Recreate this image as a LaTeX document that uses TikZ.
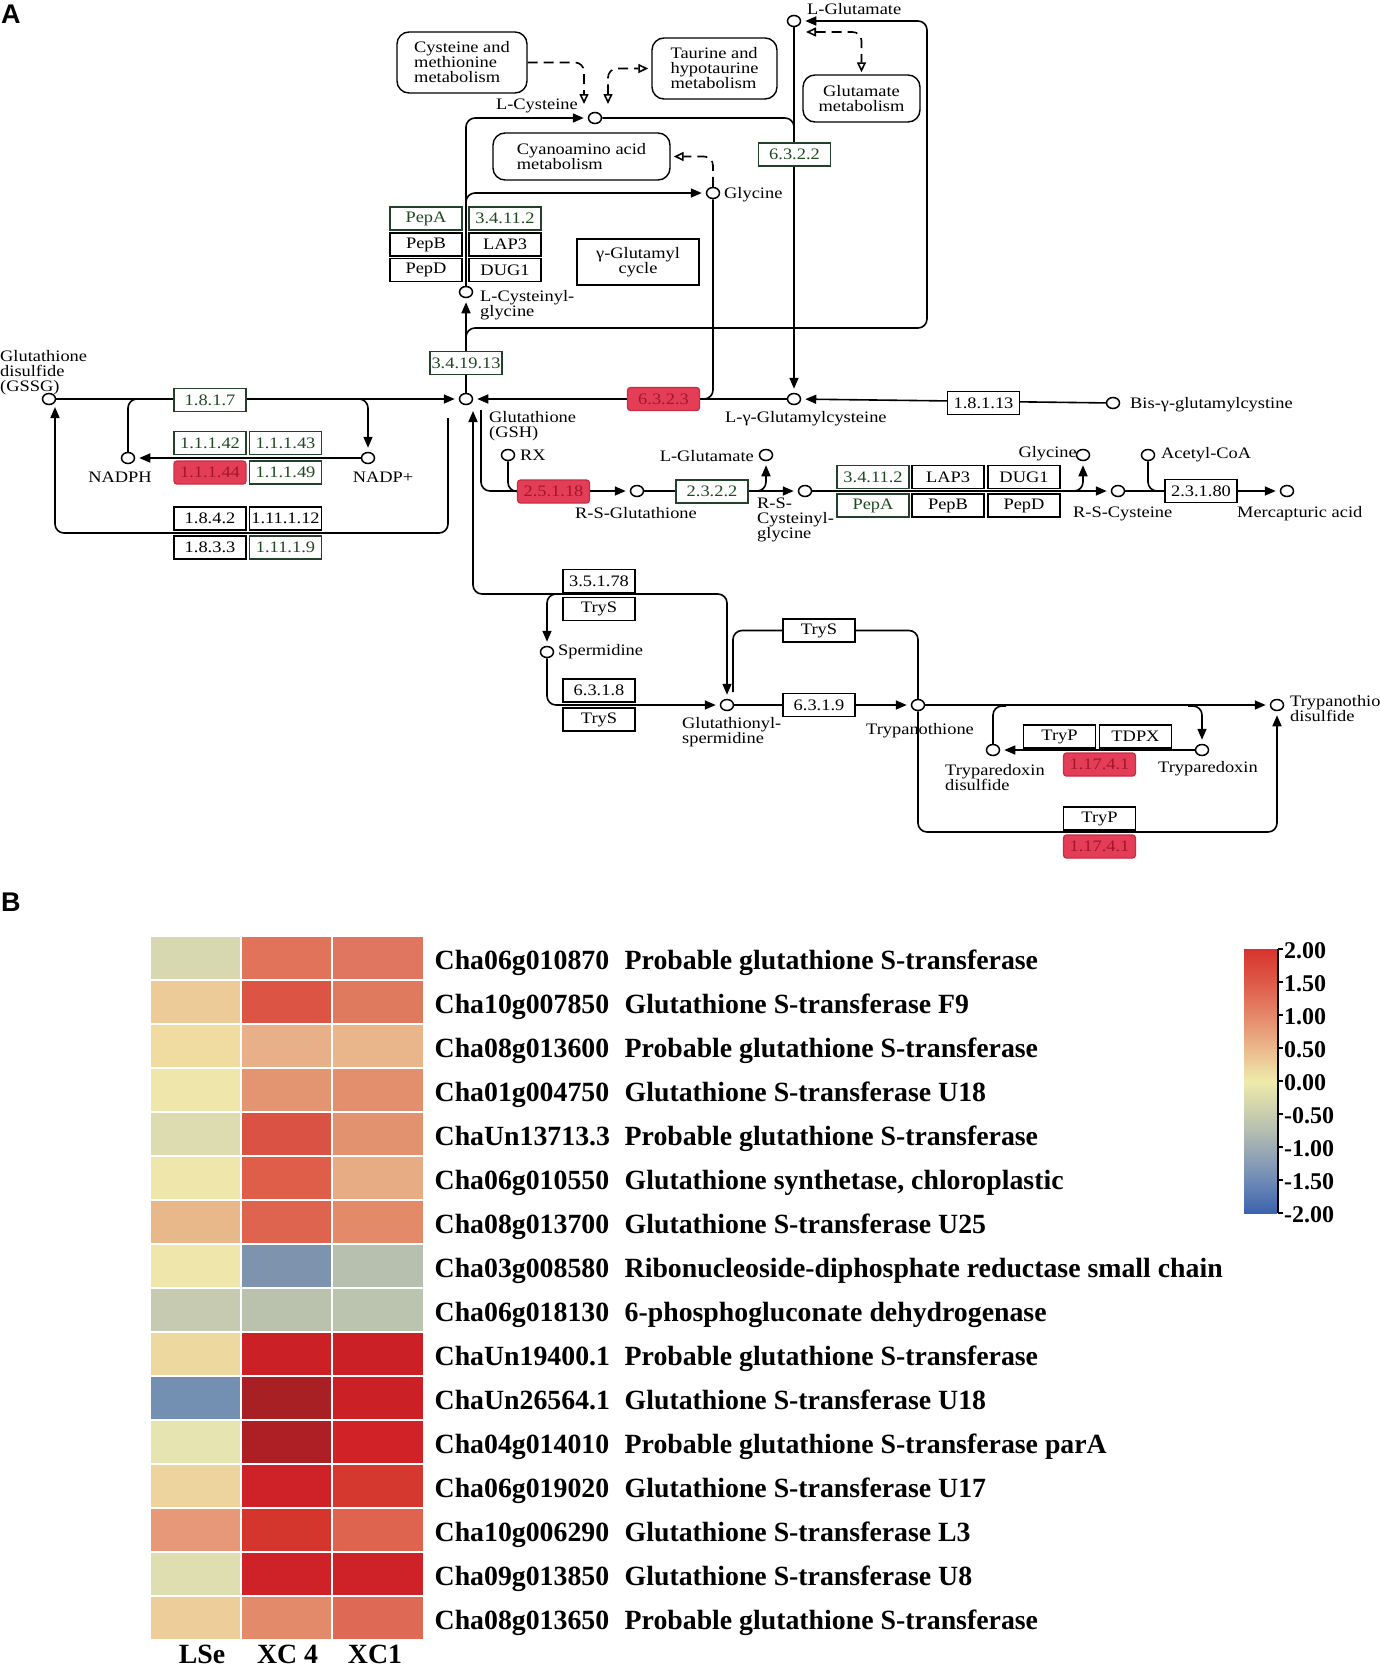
\documentclass[tikz,border=0pt]{standalone}
\usepackage{fontspec}
\setmainfont{Liberation Serif}
\newfontfamily\kegg[FakeStretch=1.15]{Liberation Serif}
\newfontfamily\hmfont{Liberation Serif}
\newfontfamily\panelfont{Liberation Sans}
\usetikzlibrary{arrows.meta,shapes.geometric}
\pgfdeclarelayer{bg}
\pgfsetlayers{bg,main}
\definecolor{kgreen}{HTML}{1E4A22}
\definecolor{kgreenb}{HTML}{23402A}
\definecolor{kred}{HTML}{E43D58}
\definecolor{kredb}{HTML}{C92C45}
\definecolor{kredt}{HTML}{A3162C}
\tikzset{otip/.tip={Triangle[open,length=10pt,width=9pt]},
         ftip/.tip={Triangle[length=11pt,width=9pt]}}
\begin{document}
\begin{tikzpicture}[x=1pt,y=-1pt,
  kfont/.style={font=\kegg\fontsize{16}{15}\selectfont},
  ln/.style={line width=1.6pt},
  rc/.style={rounded corners=9pt},
  arr/.style={ln,-{ftip},shorten >=4pt},
  dsh/.style={ln,dash pattern=on 10pt off 6pt},
  cpd/.style={ellipse,draw,fill=white,line width=1.5pt,minimum width=13pt,minimum height=11pt,inner sep=0pt},
  ec/.style={kfont,draw,fill=white,line width=1.3pt,minimum width=72pt,minimum height=23pt,inner sep=0pt},
  ecg/.style={ec,draw=kgreenb,text=kgreen},
  ecr/.style={ec,draw=kredb,fill=kred,text=kredt,rounded corners=3pt},
  mapbox/.style={kfont,draw,fill=white,rounded corners=12pt,line width=1.4pt,inner sep=0pt,align=left},
  lbl/.style={kfont,inner sep=0pt,align=left},
  hm/.style={font=\hmfont\bfseries\fontsize{27.8}{30}\selectfont,inner sep=0pt},
  cbl/.style={font=\hmfont\bfseries\fontsize{24}{26}\selectfont,inner sep=0pt,anchor=west},
  panel/.style={font=\panelfont\bfseries\fontsize{27}{27}\selectfont,anchor=north west,inner sep=0pt},
]
\useasboundingbox (0,0) rectangle (1380,1668);
\clip (0,0) rectangle (1380,1668);

% panel labels
\node[panel] (labA) at (1,5) {A};
\node[panel] (labB) at (1,893) {B};

% ---------- map boxes ----------
\node[mapbox,minimum width=130pt,minimum height=61pt] (cysmet) at (462,62.5) {Cysteine and\\methionine\\metabolism};
\node[mapbox,minimum width=125pt,minimum height=61pt] (taurine) at (714.5,68.5) {Taurine and\\hypotaurine\\metabolism};
\node[mapbox,minimum width=117pt,minimum height=47pt,align=center] (glutmet) at (861.5,98.5) {Glutamate\\metabolism};
\node[mapbox,minimum width=177pt,minimum height=47pt] (cyano) at (581.5,156.5) {Cyanoamino acid\\metabolism};
\node[kfont,draw,fill=white,line width=1.4pt,minimum width=122pt,minimum height=46pt,inner sep=0pt,align=center] (gcyc) at (638,262) {γ-Glutamyl\\cycle};

% ---------- compounds ----------
\node[cpd] (lglu1) at (794,21) {};
\node[cpd] (lcys) at (595,118) {};
\node[cpd] (gly1) at (713,193) {};
\node[cpd] (cysgly) at (466,292) {};
\node[cpd] (gssg) at (49,399) {};
\node[cpd] (gsh) at (466,399) {};
\node[cpd] (nadph) at (128,458) {};
\node[cpd] (nadp) at (368,458) {};
\node[cpd] (lgglu) at (794,399) {};
\node[cpd] (bis) at (1113,403) {};
\node[cpd] (rx) at (508,455) {};
\node[cpd] (rsg) at (637,491) {};
\node[cpd] (lglu2) at (766,455) {};
\node[cpd] (rscg) at (805,491) {};
\node[cpd] (gly2) at (1083,455) {};
\node[cpd] (rsc) at (1118,491) {};
\node[cpd] (acoa) at (1148,455) {};
\node[cpd] (merc) at (1287,491) {};
\node[cpd] (sperm) at (547,652) {};
\node[cpd] (gsp) at (727,705) {};
\node[cpd] (tryp) at (918,705) {};
\node[cpd] (tsd) at (1277,705) {};
\node[cpd] (txd) at (993,750) {};
\node[cpd] (tx) at (1202,750) {};

% ---------- enzymes ----------
\node[ecg] (e1817) at (210,400) {1.8.1.7};
\node[ecg] (e11142) at (210,443) {1.1.1.42};
\node[ecg] (e11143) at (285.5,443) {1.1.1.43};
\node[ecr] (e11144) at (210,472.5) {1.1.1.44};
\node[ecg] (e11149) at (285.5,472.5) {1.1.1.49};
\node[ec] (e1842) at (210,518.5) {1.8.4.2};
\node[ec] (e111112) at (285.5,518.5) {1.11.1.12};
\node[ec] (e1833) at (210,547.5) {1.8.3.3};
\node[ecg] (e11119) at (285.5,547.5) {1.11.1.9};
\node[ecg] (e341913) at (466,363) {3.4.19.13};
\node[ecg] (e6322) at (794.5,154.5) {6.3.2.2};
\node[ecr] (e6323) at (663.5,399) {6.3.2.3};
\node[ecg] (pepa1) at (426,218.5) {PepA};
\node[ecg] (e34112a) at (505,218.5) {3.4.11.2};
\node[ec] (pepb1) at (426,244.5) {PepB};
\node[ec] (lap3a) at (505,244.5) {LAP3};
\node[ec] (pepd1) at (426,270) {PepD};
\node[ec] (dug1a) at (505,270) {DUG1};
\node[ec] (e18113) at (983.5,403) {1.8.1.13};
\node[ecr] (e25118) at (553.5,491.5) {2.5.1.18};
\node[ecg] (e2322) at (712,491.5) {2.3.2.2};
\node[ecg] (e34112b) at (873,477) {3.4.11.2};
\node[ec] (lap3b) at (948,477) {LAP3};
\node[ec] (dug1b) at (1024,477) {DUG1};
\node[ecg] (pepa2) at (873,505.5) {PepA};
\node[ec] (pepb2) at (948,505.5) {PepB};
\node[ec] (pepd2) at (1024,505.5) {PepD};
\node[ec] (e23180) at (1201,491) {2.3.1.80};
\node[ec] (e35178) at (599,581) {3.5.1.78};
\node[ec] (trys1) at (599,609) {TryS};
\node[ec] (e6318) at (599,690.5) {6.3.1.8};
\node[ec] (trys2) at (599,719.5) {TryS};
\node[ec] (trys3) at (819,630.5) {TryS};
\node[ec] (e6319) at (819,705) {6.3.1.9};
\node[ec] (tryp1) at (1059.5,736.5) {TryP};
\node[ec] (tdpx) at (1135.5,736.5) {TDPX};
\node[ecr] (e117411) at (1099.5,764.5) {1.17.4.1};
\node[ec] (tryp2) at (1099.5,818.5) {TryP};
\node[ecr] (e117412) at (1099.5,846.5) {1.17.4.1};

% ---------- compound labels ----------
\node[lbl,anchor=west] (tlglu1) at (807,9) {L-Glutamate};
\node[lbl,anchor=east] (tlcys) at (578,106) {L-Cysteine};
\node[lbl,anchor=west] (tgly1) at (724,195) {Glycine};
\node[lbl,anchor=north west] (tcysgly) at (480,290) {L-Cysteinyl-\\glycine};
\node[lbl,anchor=north west] (tgssg) at (0,350) {Glutathione\\disulfide\\(GSSG)};
\node[lbl] (tnadph) at (120,477) {NADPH};
\node[lbl] (tnadp) at (383,477) {NADP+};
\node[lbl,anchor=north west] (tgsh) at (489,411) {Glutathione\\(GSH)};
\node[lbl,anchor=west] (tlgglu) at (725,419) {L-γ-Glutamylcysteine};
\node[lbl,anchor=west] (tbis) at (1130,405) {Bis-γ-glutamylcystine};
\node[lbl,anchor=west] (trx) at (520,455) {RX};
\node[lbl] (trsg) at (636,513) {R-S-Glutathione};
\node[lbl,anchor=east] (tlglu2) at (754,456) {L-Glutamate};
\node[lbl,anchor=north west] (trscg) at (757,498) {R-S-\\Cysteinyl-\\glycine};
\node[lbl,anchor=east] (tgly2) at (1077,454) {Glycine};
\node[lbl,anchor=west] (tacoa) at (1161,455) {Acetyl-CoA};
\node[lbl,anchor=west] (trsc) at (1073,514) {R-S-Cysteine};
\node[lbl,anchor=west] (tmerc) at (1237,514) {Mercapturic acid};
\node[lbl,anchor=west] (tsperm) at (558,652) {Spermidine};
\node[lbl,anchor=north west] (tgsp) at (682,717) {Glutathionyl-\\spermidine};
\node[lbl,anchor=west] (ttryp) at (866,731) {Trypanothione};
\node[lbl,anchor=north west] (ttsd) at (1290,695) {Trypanothione\\disulfide};
\node[lbl,anchor=north west] (ttxd) at (945,764) {Tryparedoxin\\disulfide};
\node[lbl,anchor=west] (ttx) at (1158,769) {Tryparedoxin};

% ---------- junction coordinates ----------
\coordinate (jn1) at (140,399);
\coordinate (jn2) at (356,399);
\coordinate (gl1) at (448,418);
\coordinate (gl2) at (55,407);
\coordinate (gshb) at (473,411);
\coordinate (gshr) at (481,410);
\coordinate (jl) at (752,491);
\coordinate (jg) at (1070,491);
\coordinate (jc) at (794,140);
\coordinate (jg1) at (466,345);
\coordinate (jgl) at (466,210);
\coordinate (ca1) at (584,104);
\coordinate (ca2) at (608,104);
\coordinate (ga1) at (806,32);
\coordinate (js) at (565,594);
\coordinate (jt) at (733,692);
\coordinate (jx1) at (1006,706);
\coordinate (jx2) at (1188,706);

\begin{pgfonlayer}{bg}
\fill[white] (0,0) rectangle (1380,1668);
% GSSG / GSH cycle
\draw[arr] (gssg) -- (gsh);
\draw[ln,rc] (jn1) -| (nadph);
\draw[arr,rc] (jn2) -| (nadp);
\draw[arr] (nadp) -- (nadph);
\draw[ln,rc,-{ftip}] (gl1) -- (448,533) -- (55,533) -- (gl2);
% GSH synthesis
\draw[arr] (bis) -- (lgglu);
\draw[arr] (lgglu) -- (gsh);
\draw[ln,rc] (gly1) |- (e6323.east);
\draw[arr] (lglu1) -- (lgglu);
\draw[ln,rc] (lcys) -| (jc);
% GSH breakdown
\draw[arr] (gsh) -- (cysgly);
\draw[arr,rc] (jg1) |- (927,328) |- (lglu1);
\draw[arr,rc] (cysgly) |- (lcys);
\draw[arr,rc] (jgl) |- (gly1);
% map links
\draw[dsh,rc,-{otip}] (cysmet) -| (ca1);
\draw[dsh,rc,{otip}-{otip},shorten >=3pt] (ca2) |- (taurine);
\draw[dsh,rc,-{otip},shorten >=3pt] (gly1) |- (cyano);
\draw[dsh,rc,{otip}-{otip},shorten >=2pt] (ga1) -| (glutmet);
% mercapturic acid branch
\draw[arr,rc] (gshr) |- (rsg);
\draw[ln,rc] (rx) |- (e25118.west);
\draw[arr] (rsg) -- (rscg);
\draw[arr,rc] (jl) -| (lglu2);
\draw[arr] (rscg) -- (rsc);
\draw[arr,rc] (jg) -| (gly2);
\draw[arr] (rsc) -- (merc);
\draw[ln,rc] (acoa) |- (e23180.west);
% trypanothione branch
\draw[ln,rc,{ftip}-{ftip},shorten >=4pt] (gshb) -- (473,594) -| (gsp);
\draw[arr,rc] (js) -| (sperm);
\draw[arr,rc] (sperm) |- (gsp);
\draw[arr] (gsp) -- (tryp);
\draw[ln,rc] (tryp) |- (trys3.center) -| (jt);
\draw[arr] (tryp) -- (tsd);
\draw[ln,rc] (jx1) -| (txd);
\draw[arr,rc] (jx2) -| (tx);
\draw[arr] (tx) -- (txd);
\draw[arr,rc] (tryp) |- (1100,832) -| (tsd);
\end{pgfonlayer}

% ---------- heatmap ----------
\foreach \i/\ca/\cb/\cc/\gid/\desc in {
 0/D8D8B0/E0735A/E07560/Cha06g010870/{Probable glutathione S-transferase},
 1/EDCB98/DC5544/E07A5E/Cha10g007850/{Glutathione S-transferase F9},
 2/F0DBA0/E8B088/E8B68A/Cha08g013600/{Probable glutathione S-transferase},
 3/EEE6AA/E39470/E38E6C/Cha01g004750/{Glutathione S-transferase U18},
 4/DCDCB0/DA5243/E39270/ChaUn13713.3/{Probable glutathione S-transferase},
 5/EEE6AA/DE5E4A/E8AC84/Cha06g010550/{Glutathione synthetase, chloroplastic},
 6/E8B88A/DE6450/E38A68/Cha08g013700/{Glutathione S-transferase U25},
 7/EEE6AA/7D93AE/B7BFAE/Cha03g008580/{Ribonucleoside-diphosphate reductase small chain},
 8/C5CAB0/BAC2AE/BAC4AE/Cha06g018130/{6-phosphogluconate dehydrogenase},
 9/EDD8A0/CC2027/CC2027/ChaUn19400.1/{Probable glutathione S-transferase},
 10/7390B2/A81F24/CC2027/ChaUn26564.1/{Glutathione S-transferase U18},
 11/E6E4B0/AE1F25/D02227/Cha04g014010/{Probable glutathione S-transferase parA},
 12/EDD49E/CE2228/D4382E/Cha06g019020/{Glutathione S-transferase U17},
 13/E69878/D4362E/DE6450/Cha10g006290/{Glutathione S-transferase L3},
 14/DEDEB0/CE2228/CE2228/Cha09g013850/{Glutathione S-transferase U8},
 15/EDCE9A/E38A6A/DE6A55/Cha08g013650/{Probable glutathione S-transferase}} {
  \pgfmathsetmacro\yt{936.7+44*\i}
  \definecolor{hA}{HTML}{\ca}
  \definecolor{hB}{HTML}{\cb}
  \definecolor{hC}{HTML}{\cc}
  \fill[hA] (150.5,\yt) rectangle (240,\yt+42);
  \fill[hB] (241.8,\yt) rectangle (331.4,\yt+42);
  \fill[hC] (333.2,\yt) rectangle (423,\yt+42);
  \node[hm,anchor=base west] (gid\i) at (434.5,\yt+32.5) {\gid};
  \node[hm,anchor=base west] (gds\i) at (624.5,\yt+32.5) {\desc};
}
\node[hm,anchor=base] (cLSe) at (202,1663) {LSe};
\node[hm,anchor=base] (cXC4) at (287.5,1663) {XC 4};
\node[hm,anchor=base] (cXC1) at (375,1663) {XC1};

% ---------- colour bar ----------
\definecolor{s0}{HTML}{D6342E}
\definecolor{s1}{HTML}{DE5A48}
\definecolor{s2}{HTML}{E5876A}
\definecolor{s3}{HTML}{EBB88C}
\definecolor{s4}{HTML}{EEEBAA}
\definecolor{s5}{HTML}{C9CDAE}
\definecolor{s6}{HTML}{9EADB4}
\definecolor{s7}{HTML}{6E8AB6}
\definecolor{s8}{HTML}{3C62AE}
\foreach \k [evaluate=\k as \kn using int(\k+1)] in {0,...,7} {
  \shade[top color=s\k, bottom color=s\kn] (1244,949+33*\k) rectangle (1277,949+33*\k+33.4);
}
\draw[line width=1.5pt] (1278,949) -- (1278,1213);
\foreach \k/\t in {0/2.00,1/1.50,2/1.00,3/0.50,4/0.00,5/-0.50,6/-1.00,7/-1.50,8/-2.00} {
  \draw[line width=1.5pt] (1278,949+33*\k) -- (1283,949+33*\k);
  \node[cbl] (cb\k) at (1284,951+33*\k) {\t};
}
\end{tikzpicture}
\end{document}
